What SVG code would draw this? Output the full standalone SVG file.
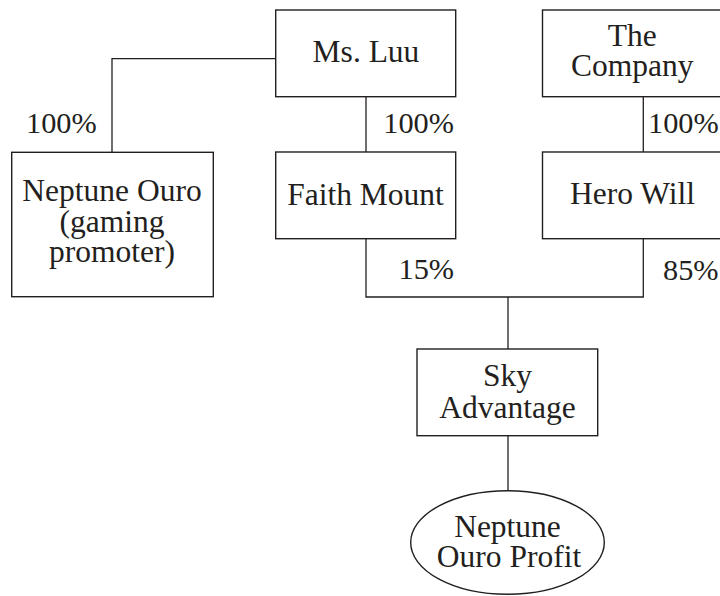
<svg xmlns="http://www.w3.org/2000/svg" width="720" height="596" viewBox="0 0 720 596">
<style>
.box{fill:#fff;stroke:#231f20;stroke-width:1.4}
.ln{fill:none;stroke:#231f20;stroke-width:1.3}
.t{font-family:"Liberation Serif","Times New Roman",serif;font-size:31.5px;fill:#231f20}
.p{font-size:30.3px}
.c{text-anchor:middle}
</style>
<rect width="720" height="596" fill="#fff"/>
<g id="connectors">
<polyline class="ln" points="276,58.7 112,58.7 112,152"/>
<line class="ln" x1="366" y1="97" x2="366" y2="152"/>
<line class="ln" x1="643.3" y1="97" x2="643.3" y2="152"/>
<polyline class="ln" points="366,239 366,297 643.3,297 643.3,239"/>
<line class="ln" x1="508" y1="297" x2="508" y2="349"/>
<line class="ln" x1="508" y1="436" x2="508" y2="491"/>
<text class="t p" x="26" y="132.5">100%</text>
<text class="t p" x="383.3" y="132.7">100%</text>
<text class="t p" x="648" y="132.7">100%</text>
<text class="t p" x="398.5" y="279.3">15%</text>
<text class="t p" x="663" y="280">85%</text>
</g>
<g id="ms-luu">
<rect class="box" x="275.7" y="10" width="180" height="86.7"/>
<text class="t c" x="366" y="62.3">Ms. Luu</text>
</g>
<g id="the-company">
<rect class="box" x="542.5" y="10" width="200" height="86.7"/>
<text class="t c" x="632.2" y="46">The</text>
<text class="t c" x="632.2" y="75.7">Company</text>
</g>
<g id="neptune-ouro">
<rect class="box" x="11.7" y="152.3" width="201.6" height="144.4"/>
<text class="t c" x="112" y="201" font-size="31">Neptune Ouro</text>
<text class="t c" x="112" y="231.7" font-size="31">(gaming</text>
<text class="t c" x="112" y="262.3" font-size="31">promoter)</text>
</g>
<g id="faith-mount">
<rect class="box" x="275.7" y="152" width="180" height="86.7"/>
<text class="t c" x="365.5" y="204.5">Faith Mount</text>
</g>
<g id="hero-will">
<rect class="box" x="542.5" y="152" width="200" height="86.7"/>
<text class="t c" x="632.5" y="204.3">Hero Will</text>
</g>
<g id="sky-advantage">
<rect class="box" x="417" y="349" width="180.7" height="86.7"/>
<text class="t c" x="507.5" y="385.5">Sky</text>
<text class="t c" x="507.5" y="417.5">Advantage</text>
</g>
<g id="neptune-ouro-profit">
<ellipse class="box" cx="507.5" cy="542.5" rx="96.8" ry="51.8"/>
<text class="t c" x="507.5" y="536.7">Neptune</text>
<text class="t c" x="509" y="567">Ouro Profit</text>
</g>
</svg>
